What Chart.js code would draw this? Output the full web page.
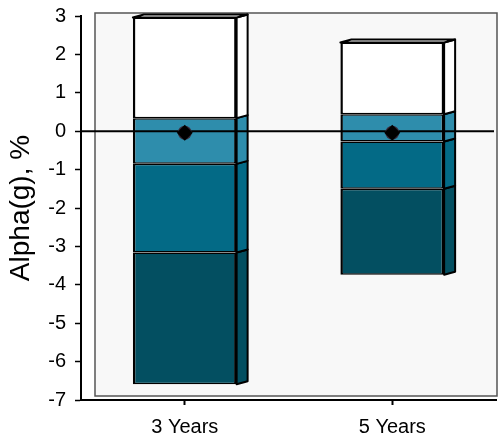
<!DOCTYPE html>
<html>
<head>
<meta charset="utf-8">
<script src="https://cdn.jsdelivr.net/npm/chart.js@4.4.1/dist/chart.umd.min.js"></script>
<style>
  html, body { margin: 0; padding: 0; background: #fff; }
  #wrap { width: 504px; height: 438px; }
</style>
</head>
<body>
<div id="wrap"><canvas id="chart"></canvas></div>
<script>
const categories = ['3 Years', '5 Years'];

// band edges (percent)
const p5  = [-6.59, -3.74];
const p25 = [-3.16, -1.50];
const p50 = [-0.85, -0.27];
const p75 = [ 0.34,  0.44];
const p95 = [ 2.96,  2.31];
const marker = [-0.04, -0.04];

const bandColors = ['#034f61', '#036a86', '#2e8dac', '#ffffff'];

function band(lo, hi) {
    return lo.map((v, i) => [v, hi[i]]);
}

const bands = [band(p5, p25), band(p25, p50), band(p50, p75), band(p75, p95)];

const depthX = 11;
const depthY = -3;

// grey plot panel behind the bars
const panel = {
    id: 'panel',
    beforeDatasetsDraw(chart) {
        const a = chart.chartArea;
        const ctx = chart.ctx;
        ctx.save();
        ctx.fillStyle = '#f8f8f8';
        ctx.fillRect(a.left + 14, a.top - 3, a.right - a.left - 13, a.bottom - a.top - 1);
        ctx.strokeStyle = '#555';
        ctx.lineWidth = 1.5;
        ctx.strokeRect(a.left + 14, a.top - 3, a.right - a.left - 13, a.bottom - a.top - 1);
        ctx.restore();
    }
};

// side and top faces of the boxes, plus the zero line
const boxes = {
    id: 'boxes',
    beforeDatasetDraw(chart, args) {
        if (args.index !== 4) return;
        const ctx = chart.ctx;
        ctx.save();
        ctx.lineWidth = 2;
        ctx.strokeStyle = '#000';
        ctx.lineJoin = 'round';
        for (let d = 0; d < 4; d++) {
            const meta = chart.getDatasetMeta(d);
            meta.data.forEach(el => {
                const p = el.getProps(['x', 'y', 'base', 'width'], true);
                const top = Math.min(p.y, p.base);
                const bottom = Math.max(p.y, p.base);
                const left = p.x - p.width / 2;
                const right = p.x + p.width / 2;
                ctx.fillStyle = bandColors[d];
                ctx.beginPath();
                ctx.moveTo(right, top);
                ctx.lineTo(right + depthX, top + depthY);
                ctx.lineTo(right + depthX, bottom + depthY);
                ctx.lineTo(right, bottom);
                ctx.closePath();
                ctx.fill();
                ctx.stroke();
                if (d === 3) {
                    ctx.beginPath();
                    ctx.moveTo(left, top);
                    ctx.lineTo(left + depthX, top + depthY);
                    ctx.lineTo(right + depthX, top + depthY);
                    ctx.lineTo(right, top);
                    ctx.closePath();
                    ctx.fill();
                    ctx.stroke();
                }
            });
        }
        const y0 = chart.scales.y.getPixelForValue(0);
        ctx.beginPath();
        ctx.moveTo(chart.chartArea.left, y0);
        ctx.lineTo(chart.chartArea.right - 2, y0);
        ctx.stroke();
        ctx.restore();
    }
};

const datasets = bands.map((b, i) => ({
    type: 'bar',
    data: b,
    backgroundColor: bandColors[i],
    borderColor: '#000',
    borderWidth: { top: 1.5, bottom: 1.5, left: 2.5, right: 2.5 },
    borderSkipped: false,
    grouped: false,
    barPercentage: 0.5,
    categoryPercentage: 1,
    order: 2
}));

datasets.push({
    type: 'line',
    data: marker,
    showLine: false,
    pointStyle: 'circle',
    pointRadius: 7,
    pointBackgroundColor: '#3a2a3a',
    pointBorderWidth: 0,
    order: 1
});

datasets.push({
    type: 'line',
    data: marker,
    showLine: false,
    pointStyle: 'rectRot',
    pointRadius: 8,
    pointBackgroundColor: '#000',
    pointBorderWidth: 0,
    order: 0
});

Chart.defaults.font.family = '"Liberation Sans", Arial, sans-serif';
Chart.defaults.color = '#000';

new Chart(document.getElementById('chart'), {
    data: {
        labels: categories,
        datasets: datasets
    },
    options: {
        responsive: true,
        maintainAspectRatio: false,
        animation: false,
        layout: { padding: { top: 16, right: 8, bottom: 0, left: 0 } },
        plugins: {
            legend: { display: false },
            tooltip: { enabled: false }
        },
        scales: {
            x: {
                offset: true,
                afterFit(scale) { scale.height = 38; },
                border: { display: true, color: '#000', width: 2 },
                grid: { offset: false, drawOnChartArea: false, tickColor: '#000', tickLength: 5, tickWidth: 2 },
                ticks: { font: { size: 20 }, padding: 10 }
            },
            y: {
                min: -7,
                max: 3,
                afterFit(scale) {
                    scale.width = 81;
                    scale.paddingTop = 0;
                    scale.paddingBottom = 0;
                },
                border: { display: true, color: '#000', width: 2 },
                grid: { drawOnChartArea: false, tickColor: '#000', tickLength: 6, tickWidth: 1.5 },
                ticks: { stepSize: 1, font: { size: 20 }, padding: 9 },
                title: {
                    display: true,
                    text: 'Alpha(g), %',
                    font: { size: 28 },
                    padding: { top: 4, bottom: 0 }
                }
            }
        }
    },
    plugins: [panel, boxes]
});
</script>
</body>
</html>
